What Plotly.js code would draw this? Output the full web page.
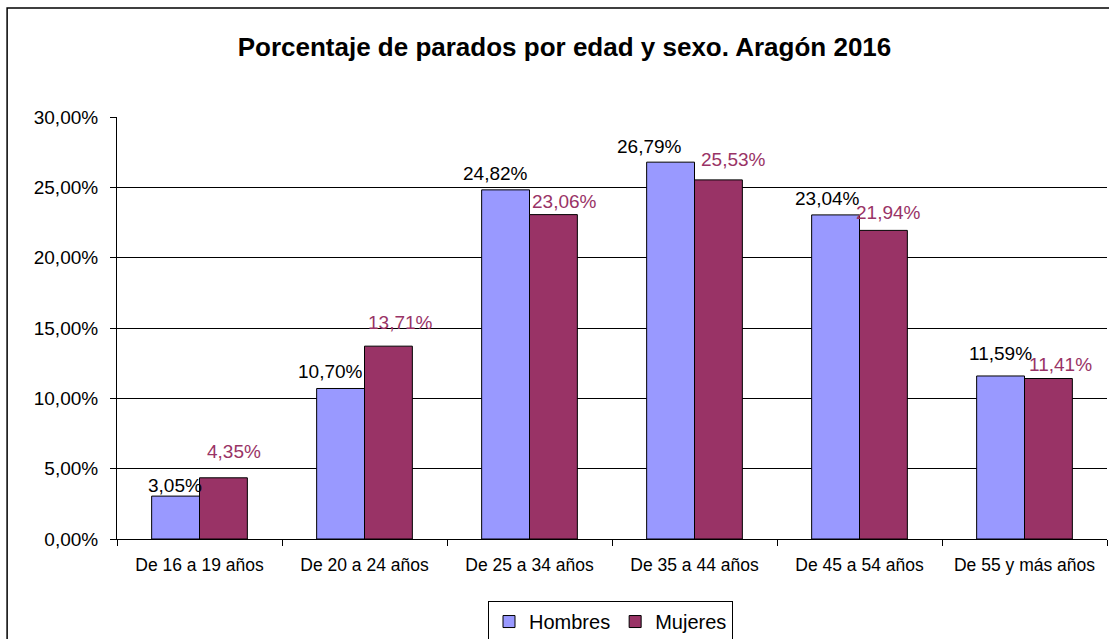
<!DOCTYPE html>
<html>
<head>
<meta charset="utf-8">
<script src="https://cdn.plot.ly/plotly-3.0.1.min.js"></script>
<style>
  html, body { margin: 0; padding: 0; background: #ffffff; }
  #chart { width: 1109px; height: 639px; }
</style>
</head>
<body>
<div id="chart"></div>
<script>
// ---- Data ----
const categories = ['De 16 a 19 años', 'De 20 a 24 años', 'De 25 a 34 años', 'De 35 a 44 años', 'De 45 a 54 años', 'De 55 y más años'];
const hombres = [3.05, 10.70, 24.82, 26.79, 23.04, 11.59];
const mujeres = [4.35, 13.71, 23.06, 25.53, 21.94, 11.41];
const yTickVals = [0, 5, 10, 15, 20, 25, 30];

// ---- Label placement (pixel offsets, style only) ----
const hombresDx = [-1, -10, -10, -21, -8, 0];
const hombresDy = [11, 17, 16, 16, 16, 22];
const mujeresDx = [10, 12, 11, 15, 5, 12];
const mujeresDy = [26, 24, 13, 20, 18, 14];

const FONT = 'Liberation Sans, Arial, sans-serif';
const fmt = v => v.toFixed(2).replace('.', ',') + '%';
const halfBar = 24;

const annotations = [];
categories.forEach((c, i) => {
  annotations.push({
    x: c, y: hombres[i], xref: 'x', yref: 'y',
    text: fmt(hombres[i]), showarrow: false,
    xanchor: 'center', yanchor: 'middle',
    xshift: -halfBar + hombresDx[i], yshift: hombresDy[i],
    font: {family: FONT, size: 19, color: '#000000'}
  });
  annotations.push({
    x: c, y: mujeres[i], xref: 'x', yref: 'y',
    text: fmt(mujeres[i]), showarrow: false,
    xanchor: 'center', yanchor: 'middle',
    xshift: halfBar + mujeresDx[i], yshift: mujeresDy[i],
    font: {family: FONT, size: 19, color: '#993366'}
  });
});

const traces = [
  {
    type: 'bar', name: 'Hombres', x: categories, y: hombres,
    marker: {color: '#9999FF', line: {color: '#000000', width: 1}},
    hoverinfo: 'skip'
  },
  {
    type: 'bar', name: 'Mujeres', x: categories, y: mujeres,
    marker: {color: '#993366', line: {color: '#000000', width: 1}},
    hoverinfo: 'skip'
  }
];

const layout = {
  width: 1109, height: 639,
  paper_bgcolor: '#ffffff', plot_bgcolor: '#ffffff',
  separators: ',.',
  margin: {l: 117, r: 2, t: 117, b: 100, pad: 0, autoexpand: false},
  font: {family: FONT, size: 17, color: '#000000'},
  title: {
    text: '<b>Porcentaje de parados por edad y sexo. Aragón 2016</b>',
    font: {family: FONT, size: 26, color: '#000000'},
    x: 0.509, xanchor: 'center', xref: 'container',
    y: 0.926, yanchor: 'middle', yref: 'container'
  },
  barmode: 'group', bargap: 0.42, bargroupgap: 0,
  xaxis: {
    type: 'category',
    showline: true, linecolor: '#000000', linewidth: 1,
    ticks: 'outside', tickson: 'boundaries', ticklen: 6, tickcolor: '#000000',
    tickfont: {family: FONT, size: 17.5, color: '#000000'},
    showgrid: false, zeroline: false, fixedrange: true,
    ticklabelstandoff: 10
  },
  yaxis: {
    range: [0, 30], tickmode: 'array', tickvals: yTickVals,
    ticktext: yTickVals.map(fmt),
    showline: true, linecolor: '#000000', linewidth: 1,
    ticks: 'outside', ticklen: 6, tickcolor: '#000000',
    tickfont: {family: FONT, size: 19, color: '#000000'},
    showgrid: true, gridcolor: '#000000', gridwidth: 1,
    zeroline: false, fixedrange: true,
    ticklabelstandoff: 8
  },
  showlegend: true,
  legend: {
    orientation: 'h', x: 0.4985, xanchor: 'center',
    y: -0.147, yanchor: 'top',
    bordercolor: '#000000', borderwidth: 1, bgcolor: '#ffffff',
    font: {family: FONT, size: 20, color: '#000000'},
    itemwidth: 30, tracegroupgap: 0
  },
  annotations: annotations,
  shapes: [{
    type: 'rect', xref: 'paper', yref: 'paper',
    x0: -0.111, x1: 1.05, y0: -0.4, y1: 1.258,
    line: {color: '#000000', width: 1.5}, fillcolor: 'rgba(0,0,0,0)', layer: 'below'
  }]
};

Plotly.newPlot('chart', traces, layout, {displayModeBar: false, staticPlot: true});
</script>
</body>
</html>
